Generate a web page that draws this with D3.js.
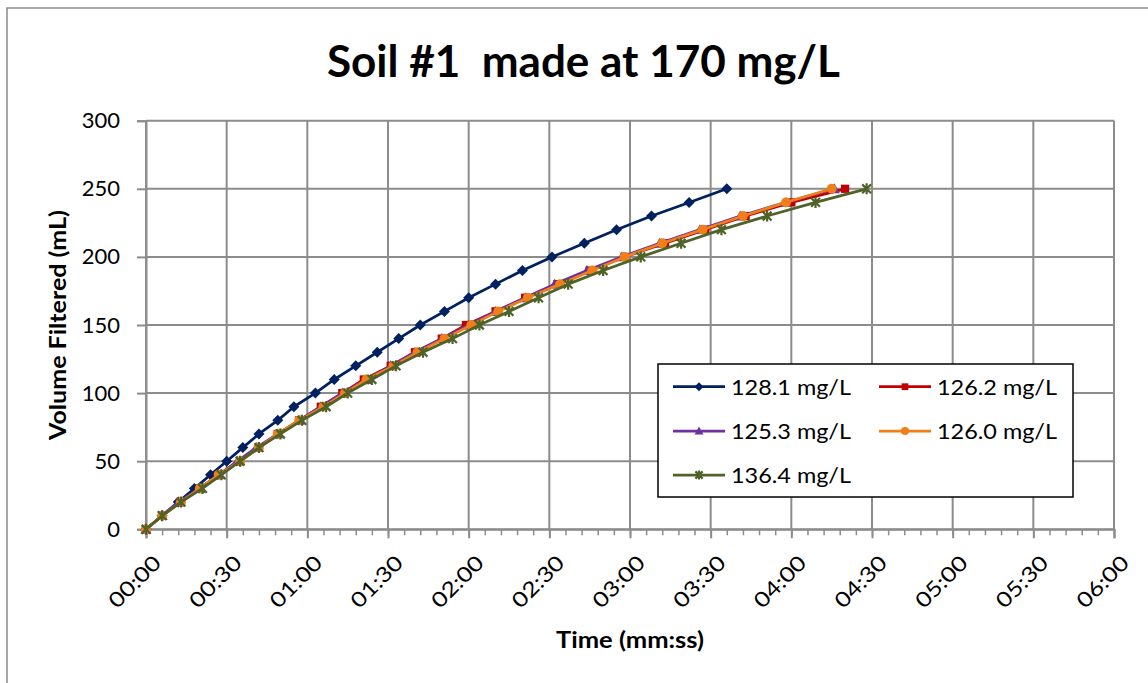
<!DOCTYPE html>
<html>
<head>
<meta charset="utf-8">
<script src="https://cdn.jsdelivr.net/npm/d3@7"></script>
<style>
  html, body { margin: 0; padding: 0; background: #fff; }
  svg { display: block; }
  text { font-family: Lato, "Open Sans", "DejaVu Sans", sans-serif; fill: #000; }
</style>
</head>
<body>
<svg id="chart" width="1148" height="683"></svg>
<script>
// ---------- data ----------
const volumes = [0,10,20,30,40,50,60,70,80,90,100,110,120,130,140,150,160,170,180,190,200,210,220,230,240,250];
const seriesNames = ["128.1 mg/L", "126.2 mg/L", "125.3 mg/L", "126.0 mg/L", "136.4 mg/L"];
// elapsed time (seconds) at which each volume was reached
const times1281 = [0,6,12,18,24,30,36,42,49,55,63,70,78,86,94,102,111,120,130,140,151,163,175,188,202,216];
const times1262 = [0,6,13,20,27,35,42,49,57,65,73,81,91,100,110,119,130,141,153,165,178,193,208,223,240,260];
const times1253 = [0,6,12,20,27,34,41,49,57,65,73,82,91,100,110,120,130,141,152,164,177,191,206,221,238,256];
const times1260 = [0,6,13,20,27,35,42,49,57,66,74,82,92,101,111,121,131,142,154,166,178,192,207,222,238,255];
const times1364 = [0,6,13,21,28,35,42,50,58,67,75,84,93,103,114,124,135,146,157,170,184,199,214,231,249,268];
const xTickSeconds = [0,30,60,90,120,150,180,210,240,270,300,330,360];
const yTickValues = [0,50,100,150,200,250,300];
const colors = ["#002060", "#C00000", "#7030A0", "#F07F1A", "#4F6228"];
const markers = ["diamond", "square", "triangle", "circle", "star"];

const allTimes = [times1281, times1262, times1253, times1260, times1364];
const series = seriesNames.map((name, i) => ({
  name, color: colors[i], marker: markers[i],
  points: volumes.map((v, j) => ({ t: allTimes[i][j], v }))
}));

// ---------- layout ----------
const svg = d3.select("#chart");
const plot = { left: 146, right: 1114, top: 120.7, bottom: 529.3 };
const x = d3.scaleLinear().domain([0, 360]).range([plot.left, plot.right]);
const y = d3.scaleLinear().domain([0, 300]).range([plot.bottom, plot.top]);
const gridColor = "#8c8c8c";

// outer chart border
svg.append("rect").attr("x", 7).attr("y", 8).attr("width", 1160).attr("height", 700)
  .attr("fill", "#fff").attr("stroke", "#8c8c8c").attr("stroke-width", 1.5);

// title
svg.append("text").attr("x", 583.5).attr("y", 77).attr("text-anchor", "middle")
  .style("font-size", "44px").style("font-weight", "bold").style("white-space", "pre")
  .attr("textLength", 513).attr("lengthAdjust", "spacingAndGlyphs")
  .text("Soil #1  made at 170 mg/L");

// gridlines
const fmt = s => String(Math.floor(s / 60)).padStart(2, "0") + ":" + String(s % 60).padStart(2, "0");
svg.append("g").selectAll("line").data(yTickValues).join("line")
  .attr("x1", plot.left).attr("x2", plot.right)
  .attr("y1", d => y(d)).attr("y2", d => y(d))
  .attr("stroke", gridColor).attr("stroke-width", 2);
svg.append("g").selectAll("line").data(xTickSeconds).join("line")
  .attr("x1", d => x(d)).attr("x2", d => x(d))
  .attr("y1", plot.top).attr("y2", plot.bottom)
  .attr("stroke", gridColor).attr("stroke-width", 2);

// y axis
const yAxis = d3.axisLeft(y).tickValues(yTickValues).tickSize(9).tickPadding(17);
const gy = svg.append("g").attr("transform", `translate(${plot.left},0)`).call(yAxis);
gy.select(".domain").attr("stroke", gridColor).attr("stroke-width", 2);
gy.selectAll(".tick line").attr("stroke", gridColor).attr("stroke-width", 2);
gy.selectAll(".tick text").style("font-size", "22px").style("font-family", "Lato, 'Open Sans', sans-serif").attr("fill", "#000");

// x axis minor ticks
const minor = d3.range(0, 361, 6);
const xMinor = d3.axisBottom(x).tickValues(minor).tickSize(6).tickFormat("");
const gxm = svg.append("g").attr("transform", `translate(0,${plot.bottom})`).call(xMinor);
gxm.select(".domain").remove();
gxm.selectAll(".tick line").attr("stroke", gridColor).attr("stroke-width", 1.5);

// x axis major
const xAxis = d3.axisBottom(x).tickValues(xTickSeconds).tickSize(9).tickFormat(fmt);
const gx = svg.append("g").attr("transform", `translate(0,${plot.bottom})`).call(xAxis);
gx.select(".domain").attr("stroke", gridColor).attr("stroke-width", 2);
gx.selectAll(".tick line").attr("stroke", gridColor).attr("stroke-width", 2);
gx.selectAll(".tick text")
  .style("font-size", "21px").style("font-family", "Lato, 'Open Sans', sans-serif").attr("fill", "#000")
  .attr("text-anchor", "end").attr("dy", null).attr("y", 0)
  .attr("textLength", 64).attr("lengthAdjust", "spacingAndGlyphs")
  .attr("transform", "translate(16,35) rotate(-45)");

// axis titles
svg.append("text").attr("x", 630).attr("y", 648).attr("text-anchor", "middle")
  .style("font-size", "22px").style("font-weight", "bold")
  .attr("textLength", 148).attr("lengthAdjust", "spacingAndGlyphs")
  .text("Time (mm:ss)");
svg.append("text").attr("transform", "translate(65.5,325) rotate(-90)").attr("text-anchor", "middle")
  .style("font-size", "22px").style("font-weight", "bold")
  .attr("textLength", 230).attr("lengthAdjust", "spacingAndGlyphs")
  .text("Volume Filtered (mL)");

// markers
function drawMarker(g, type, color, size) {
  const s = size;
  if (type === "diamond") {
    g.append("path").attr("d", `M0,${-s}L${s},0L0,${s}L${-s},0Z`).attr("fill", color);
  } else if (type === "square") {
    g.append("rect").attr("x", -s * 0.75).attr("y", -s * 0.75).attr("width", s * 1.5).attr("height", s * 1.5).attr("fill", color);
  } else if (type === "triangle") {
    g.append("path").attr("d", `M0,${-s}L${s},${s * 0.8}L${-s},${s * 0.8}Z`).attr("fill", color);
  } else if (type === "circle") {
    g.append("circle").attr("r", s * 0.9).attr("fill", color);
  } else if (type === "star") {
    const a = s * 0.8;
    g.append("path").attr("d", `M${-a},${-a}L${a},${a}M${-a},${a}L${a},${-a}M0,${-s}L0,${s}`)
      .attr("stroke", color).attr("stroke-width", 2.2).attr("fill", "none");
  }
}

// series
const line = d3.line().x(d => x(d.t)).y(d => y(d.v));
series.forEach(s => {
  const g = svg.append("g");
  g.append("path").datum(s.points).attr("d", line)
    .attr("fill", "none").attr("stroke", s.color).attr("stroke-width", 2.75).attr("stroke-linejoin", "round");
  g.selectAll("g.m").data(s.points).join("g").attr("class", "m")
    .attr("transform", d => `translate(${x(d.t)},${y(d.v)})`)
    .each(function () { drawMarker(d3.select(this), s.marker, s.color, 5.5); });
});

// legend
const lg = svg.append("g");
lg.append("rect").attr("x", 658).attr("y", 364).attr("width", 415).attr("height", 133)
  .attr("fill", "#fff").attr("stroke", "#000").attr("stroke-width", 1.5);
const legendPos = [
  { lx: 673, ty: 386.7 }, { lx: 879, ty: 386.7 },
  { lx: 673, ty: 431 }, { lx: 879, ty: 431 },
  { lx: 673, ty: 475 }
];
series.forEach((s, i) => {
  const p = legendPos[i];
  const g = lg.append("g");
  g.append("line").attr("x1", p.lx).attr("x2", p.lx + 52).attr("y1", p.ty).attr("y2", p.ty)
    .attr("stroke", s.color).attr("stroke-width", 2.75);
  const mg = g.append("g").attr("transform", `translate(${p.lx + 26},${p.ty})`);
  drawMarker(mg, s.marker, s.color, 4.5);
  g.append("text").attr("x", p.lx + 58).attr("y", p.ty + 8)
    .style("font-size", "22px")
    .attr("textLength", 120).attr("lengthAdjust", "spacingAndGlyphs")
    .text(s.name);
});
</script>
</body>
</html>
